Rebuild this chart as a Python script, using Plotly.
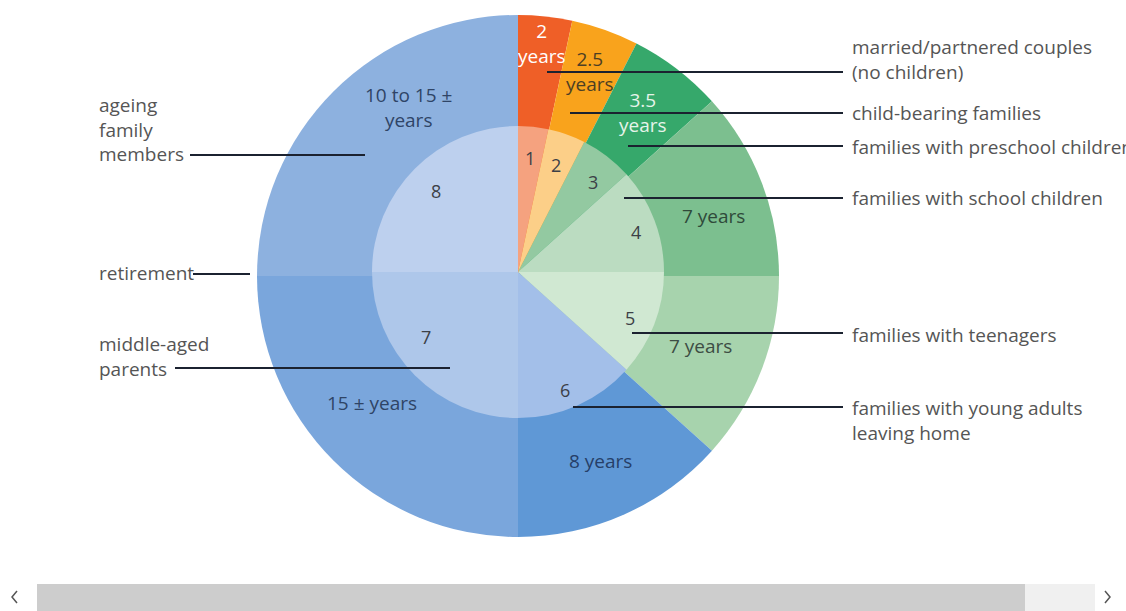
import math
import plotly.graph_objects as go

W, H = 1126, 611

# ---------------- data ----------------
stages = ["1", "2", "3", "4", "5", "6", "7", "8"]
durations = [2, 2.5, 3.5, 7, 7, 8, 15, 15]
duration_labels = ["2<br>years", "2.5<br>years", "3.5<br>years", "7 years", "7 years",
                   "8 years", "15 ± years", "10 to 15 ±<br>years"]
stage_names = ["married/partnered couples<br>(no children)", "child-bearing families",
               "families with preschool children", "families with school children",
               "families with teenagers", "families with young adults<br>leaving home",
               "middle-aged<br>parents", "ageing<br>family<br>members"]
retirement_label = "retirement"

outer_colors = ["#ef5f27", "#f9a31c", "#36a86b", "#7cbf8f", "#a7d3ad", "#5f98d6", "#7aa6dc", "#8db1df"]
inner_colors = ["#f5a27f", "#fccf88", "#93c9a1", "#bbdcc1", "#d0e8d2", "#a3bfe9", "#aec7ea", "#bdd0ee"]

# ---------------- geometry / style (pixels) ----------------
OUT_C, OUT_R = (518, 276), 261
IN_C, IN_R = (518, 272), 146
FONT = "Open Sans"
FS = 19


def px(x):
    return x / W


def py(y):
    return 1 - y / H


def polar(c, r, ang):
    a = math.radians(ang)
    return c[0] + r * math.sin(a), c[1] - r * math.cos(a)


total = sum(durations)
mids = []
acc = 0
for d in durations:
    mids.append((acc + d / 2) / total * 360)
    acc += d

fig = go.Figure()
fig.add_trace(go.Pie(
    values=durations, labels=[f"outer {s}" for s in stages], sort=False,
    direction="clockwise", rotation=0, textinfo="none", hoverinfo="skip",
    marker=dict(colors=outer_colors, line=dict(width=0)),
    domain=dict(x=[px(OUT_C[0] - OUT_R), px(OUT_C[0] + OUT_R)],
                y=[py(OUT_C[1] + OUT_R), py(OUT_C[1] - OUT_R)]),
))
fig.add_trace(go.Pie(
    values=durations, labels=[f"inner {s}" for s in stages], sort=False,
    direction="clockwise", rotation=0, textinfo="none", hoverinfo="skip",
    marker=dict(colors=inner_colors, line=dict(width=0)),
    domain=dict(x=[px(IN_C[0] - IN_R), px(IN_C[0] + IN_R)],
                y=[py(IN_C[1] + IN_R), py(IN_C[1] - IN_R)]),
))

annotations = []
shapes = []

# outer ring duration labels
out_r = [234, 217, 206, 204, 196, 203, 193, 201]
out_nudge = [0, 0, 0, 4, 0, 0, 4, 12]
out_col = ["#ffffff", "#4d3f24", "#e6f4ea", "#2f4a3a", "#3d4d44", "#263f68", "#2f4466", "#2f4466"]
for i, lab in enumerate(duration_labels):
    x, y = polar(OUT_C, out_r[i], mids[i] + out_nudge[i])
    annotations.append(dict(x=px(x), y=py(y), xref="paper", yref="paper", text=lab,
                            showarrow=False, xanchor="center", yanchor="middle",
                            font=dict(family=FONT, size=FS, color=out_col[i])))

# inner stage numbers
in_r = [116, 115, 118, 125, 121, 126, 112, 116]
in_nudge = [0, 0, 2, 2, 1, 2, 10, 0]
for i, s in enumerate(stages):
    x, y = polar((518, 273), in_r[i], mids[i] + in_nudge[i])
    annotations.append(dict(x=px(x), y=py(y), xref="paper", yref="paper", text=s,
                            showarrow=False, xanchor="center", yanchor="middle",
                            font=dict(family=FONT, size=FS - 1, color="#3c4047")))

LINE = dict(color="#1b2230", width=2)
TXT = dict(family=FONT, size=FS, color="#555555")

# right-hand callouts: (stage index, text centre y, line start x, line y)
right_callouts = [(0, 59, 547, 72), (1, 113, 570, 113), (2, 147, 628, 146),
                  (3, 198, 624, 198), (4, 335, 632, 333), (5, 420, 573, 407)]
for idx, ty, lx, ly in right_callouts:
    shapes.append(dict(type="line", xref="paper", yref="paper", x0=px(lx), x1=px(843),
                       y0=py(ly), y1=py(ly), line=LINE))
    annotations.append(dict(x=px(850), y=py(ty), xref="paper", yref="paper",
                            text=stage_names[idx], showarrow=False, xanchor="left",
                            yanchor="middle", align="left", font=TXT))

# left-hand callouts: (text, text centre y, line x0, line x1, line y)
left_callouts = [(stage_names[7], 130, 190, 365, 155), (retirement_label, 273, 193, 250, 274),
                 (stage_names[6], 356, 175, 450, 368)]
for txt, ty, x0, x1, ly in left_callouts:
    shapes.append(dict(type="line", xref="paper", yref="paper", x0=px(x0), x1=px(x1),
                       y0=py(ly), y1=py(ly), line=LINE))
    annotations.append(dict(x=px(97), y=py(ty), xref="paper", yref="paper", text=txt,
                            showarrow=False, xanchor="left", yanchor="middle",
                            align="left", font=TXT))

# page scrollbar at the bottom
shapes.append(dict(type="rect", xref="paper", yref="paper", x0=px(1025), x1=px(1095),
                   y0=py(611), y1=py(584), fillcolor="#f0f0f0", line=dict(width=0)))
shapes.append(dict(type="rect", xref="paper", yref="paper", x0=px(37), x1=px(1025),
                   y0=py(611), y1=py(584), fillcolor="#cdcdcd", line=dict(width=0)))
shapes.append(dict(type="path", xref="paper", yref="paper",
                   path=f"M {px(17)} {py(591)} L {px(12)} {py(597)} L {px(17)} {py(603)}",
                   line=dict(color="#555555", width=1.5)))
shapes.append(dict(type="path", xref="paper", yref="paper",
                   path=f"M {px(1105)} {py(591)} L {px(1110)} {py(597)} L {px(1105)} {py(603)}",
                   line=dict(color="#555555", width=1.5)))

fig.update_layout(
    width=W, height=H, margin=dict(l=0, r=0, t=0, b=0),
    paper_bgcolor="white", plot_bgcolor="white", showlegend=False,
    annotations=annotations, shapes=shapes,
)

fig.write_html("out.html")
